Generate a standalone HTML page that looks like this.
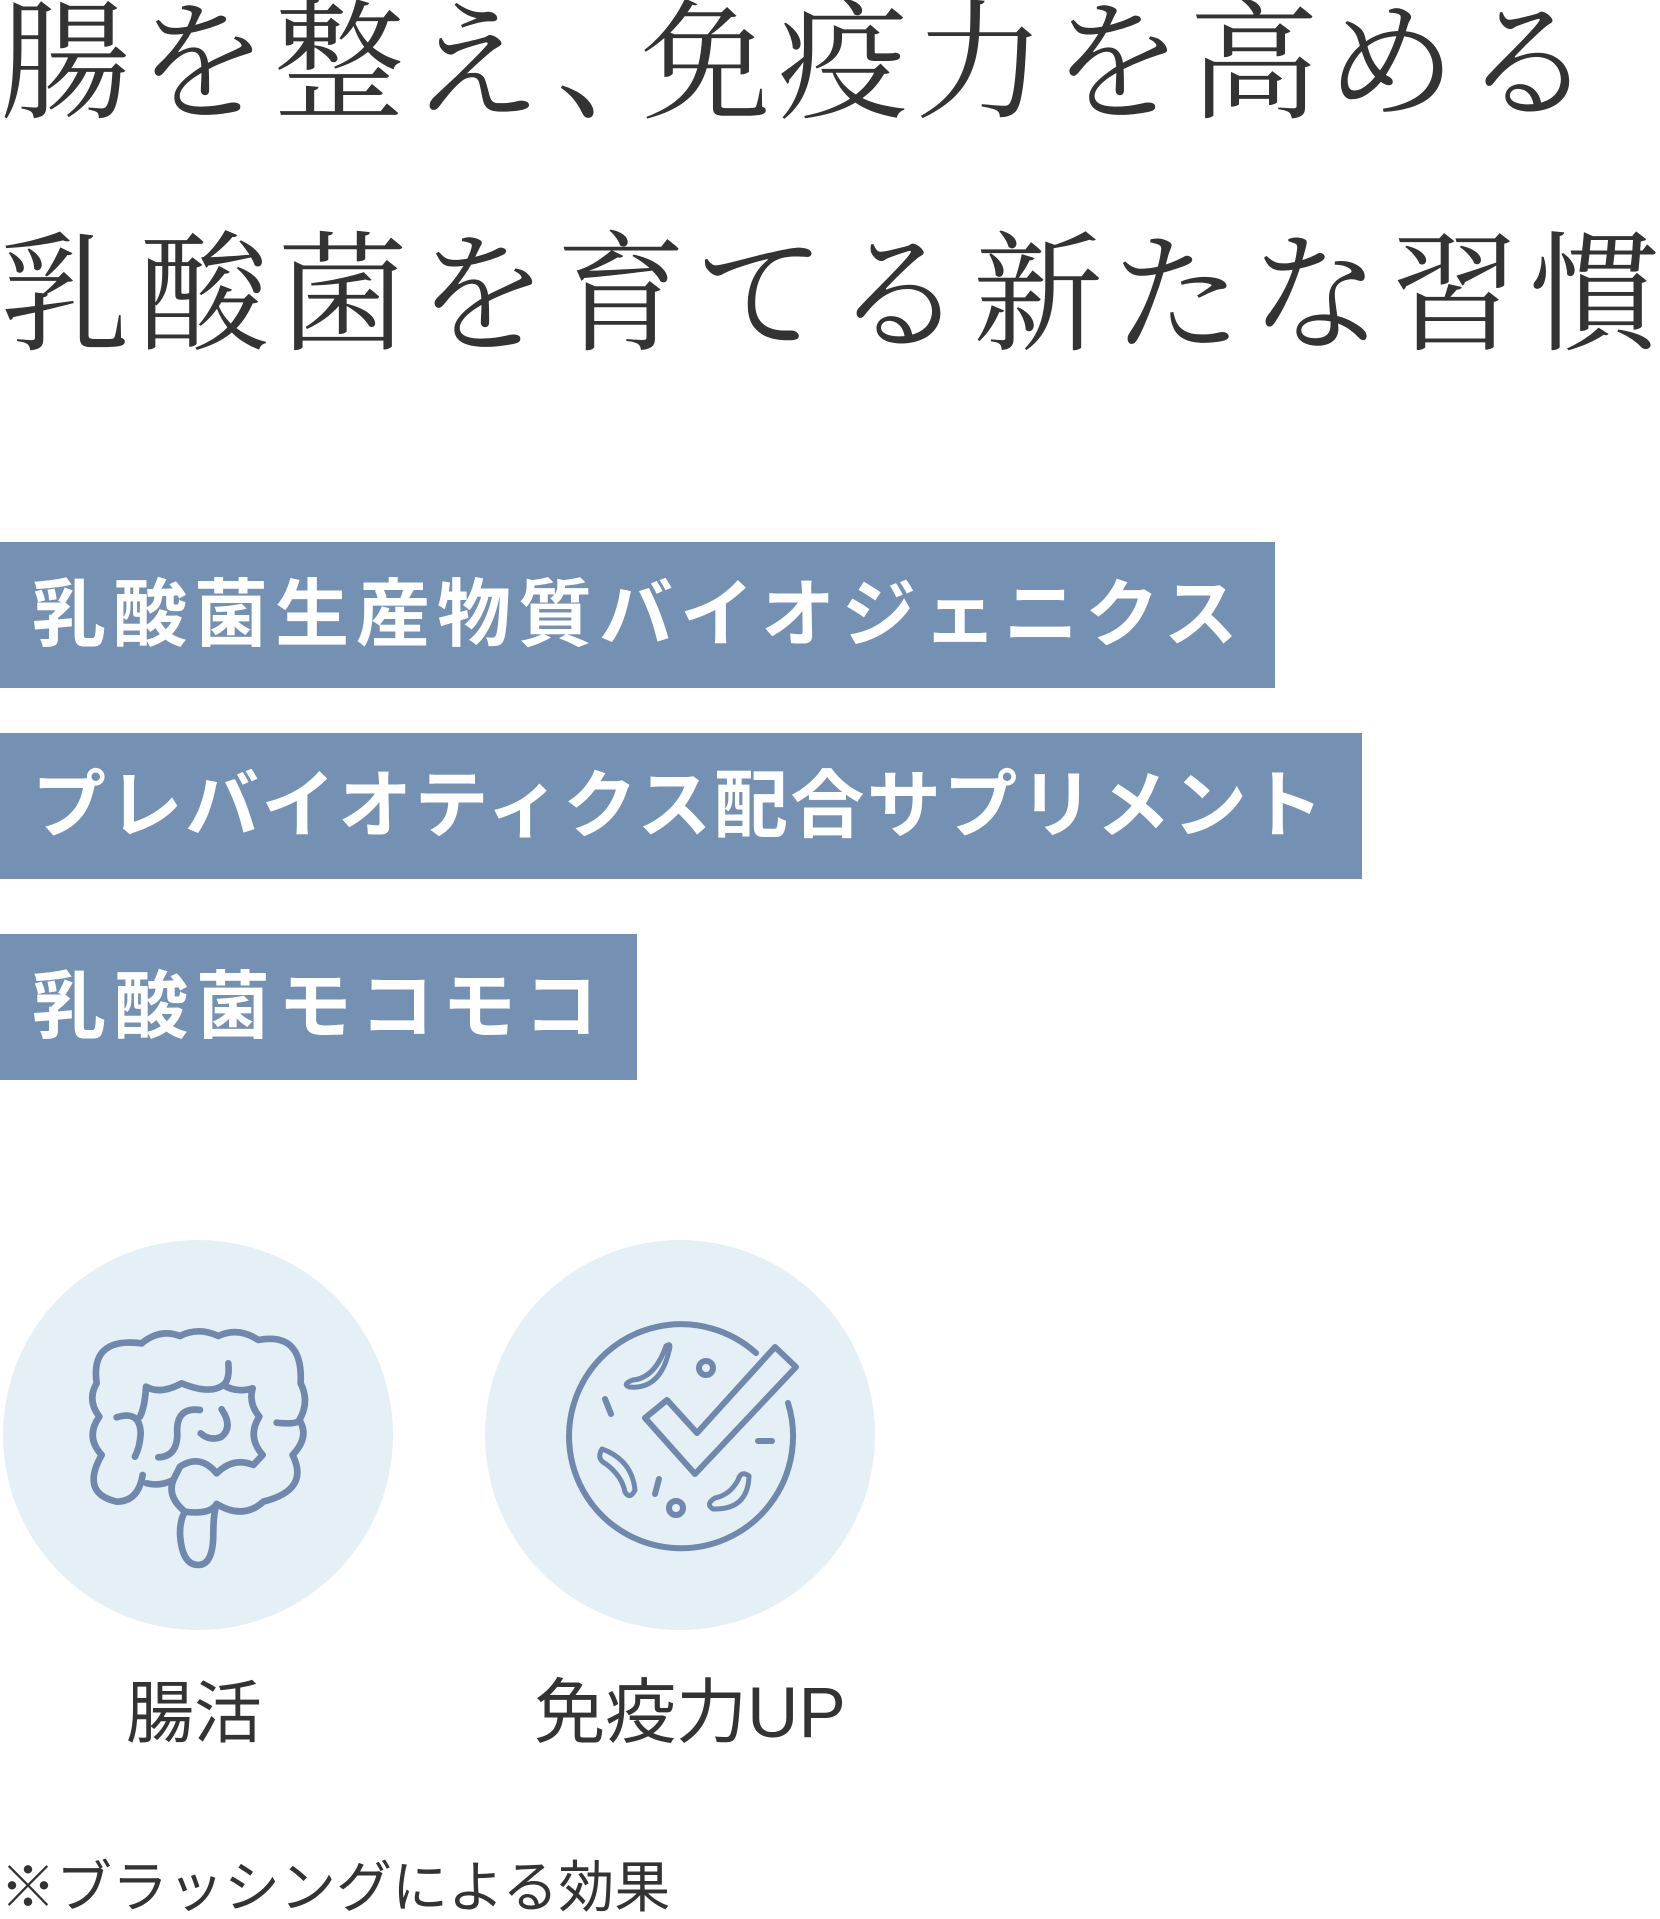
<!DOCTYPE html>
<html><head><meta charset="utf-8"><style>
html,body{margin:0;padding:0;background:#fff;}
body{width:1660px;height:1916px;position:relative;overflow:hidden;}
.t{position:absolute;left:0;font-family:"Liberation Serif","Noto Serif CJK SC",serif;color:#333;font-size:130px;line-height:1;white-space:nowrap;}
.bar{position:absolute;left:0;height:146px;background:#7490b3;color:#fff;font-family:"Liberation Sans","Noto Sans CJK JP",sans-serif;font-weight:bold;font-size:74px;line-height:146px;padding-left:32px;box-sizing:border-box;letter-spacing:5px;white-space:nowrap;}
.lbl{position:absolute;font-family:"Liberation Sans","Noto Sans CJK JP",sans-serif;color:#333;font-size:68px;line-height:1;white-space:nowrap;transform:translateX(-50%);}
</style></head><body>
<div class="t" style="top:0px;letter-spacing:7px;">腸を整え<span style="margin-right:-52px">、</span>免疫力を高める</div>
<div class="t" style="top:232px;letter-spacing:9px;">乳酸菌を育てる新たな習慣</div>
<div class="bar" style="top:542px;width:1275px;letter-spacing:7px;">乳酸菌生産物質バイオジェニクス</div>
<div class="bar" style="top:733px;width:1362px;letter-spacing:2.5px;">プレバイオティクス配合サプリメント</div>
<div class="bar" style="top:934px;width:637px;letter-spacing:8px;">乳酸菌モコモコ</div>
<svg width="1660" height="1916" style="position:absolute;left:0;top:0" xmlns="http://www.w3.org/2000/svg">
<circle cx="198" cy="1435" r="195" fill="#e4eff6"/>
<circle cx="680" cy="1435" r="195" fill="#e4eff6"/>
<g transform="translate(70,1320) scale(0.3333)" fill="none" stroke="#7188ad" stroke-width="20" stroke-linecap="round" stroke-linejoin="round">
<path d="M215,70 Q270,25 330,48 Q385,20 445,48 Q505,20 565,60 Q700,35 692,190 Q720,245 688,300 Q720,350 668,405 Q720,510 580,545 Q520,600 440,552 Q420,585 345,575 Q290,530 310,480 Q330,440 330,440 Q390,400 440,460 Q490,410 550,435 L578,405 Q530,350 568,290 Q535,250 548,205 Q500,220 460,195 Q420,225 335,190 Q270,225 228,200 Q225,260 210,290"/>
<path d="M215,70 Q60,50 80,190 Q50,240 88,290 Q45,350 95,405 Q30,520 140,545 Q205,545 218,465 M230,490 Q270,500 310,480"/>
<path d="M440,552 Q430,580 430,640 Q430,735 385,735 Q335,735 330,640 Q330,600 345,575"/>
<path d="M475,130 Q480,180 460,195"/>
<path d="M140,292 Q210,270 212,340 Q210,380 195,410"/>
<path d="M265,412 Q320,410 322,345 Q315,260 390,270"/>
<path d="M455,268 Q490,320 455,350 Q420,365 392,340"/>
<path d="M620,308 Q680,315 690,300"/>
</g>
<g fill="none" stroke="#7188ad" stroke-width="6" stroke-linecap="round" stroke-linejoin="round">
<path d="M756,1353 A112,112 0 1 0 788,1403"/>
<polygon points="645,1418 667,1400 697,1433 775,1347 796,1367 695,1474"/>
<path d="M669,1351 Q672,1342 666,1346 Q655,1378 633,1380 Q622,1384 629,1387 Q660,1390 669,1351 Z" stroke-width="5"/>
<circle cx="706" cy="1368" r="7"/>
<line x1="605" y1="1399" x2="611" y2="1414"/>
<path d="M602,1449 Q596,1459 606,1464 Q622,1476 625,1492 Q630,1500 635,1490 Q632,1460 602,1449 Z" stroke-width="5"/>
<line x1="758" y1="1441" x2="772" y2="1441"/>
<line x1="659" y1="1479" x2="655" y2="1494"/>
<circle cx="676" cy="1508" r="7"/>
<path d="M749,1476 Q741,1470 738,1480 Q730,1495 715,1498 Q705,1504 713,1509 Q748,1510 749,1476 Z" stroke-width="5"/>
</g>
</svg>
<div class="lbl" style="left:194px;top:1680px;">腸活</div>
<div class="lbl" style="left:690px;top:1678px;font-size:71px;">免疫力UP</div>
<div class="lbl" style="left:0;transform:none;top:1860px;font-size:56px;">※ブラッシングによる効果</div>
</body></html>
